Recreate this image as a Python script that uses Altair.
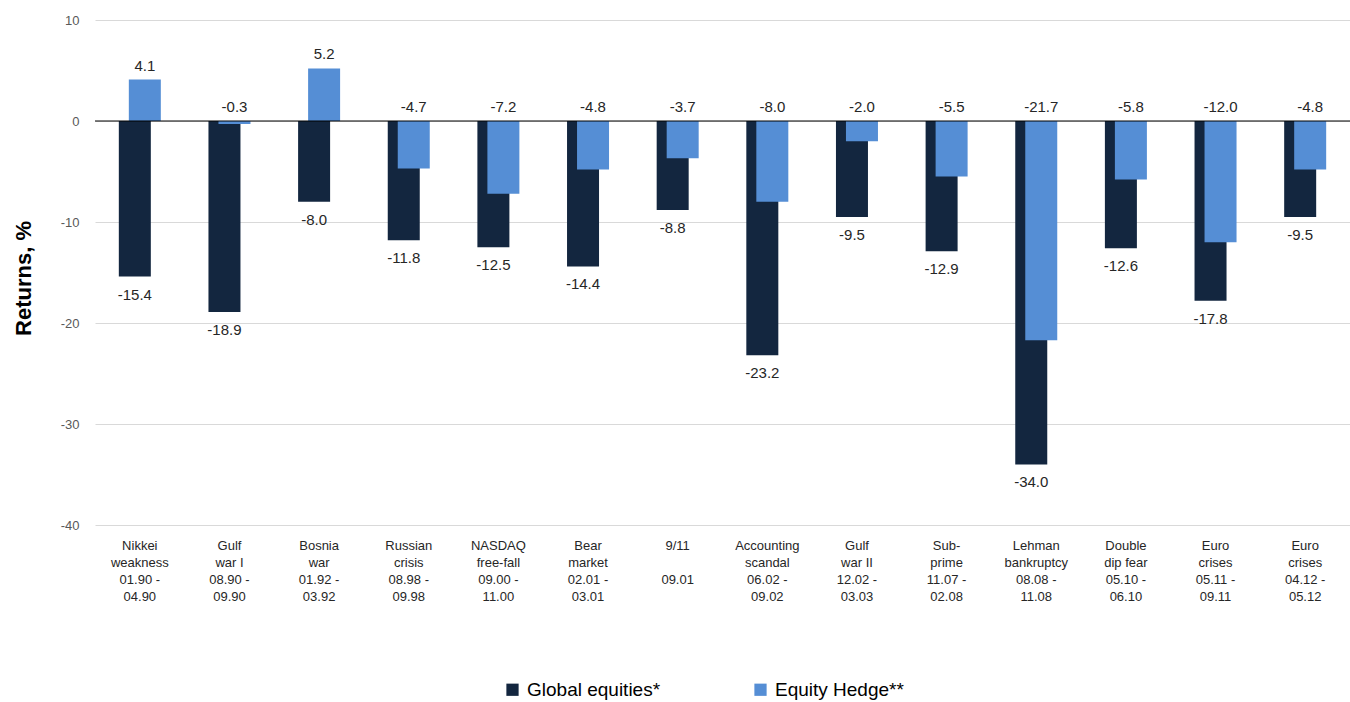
import altair as alt
import pandas as pd

categories = [
    "Nikkei|weakness|01.90 -|04.90",
    "Gulf|war I|08.90 -|09.90",
    "Bosnia|war|01.92 -|03.92",
    "Russian|crisis|08.98 -|09.98",
    "NASDAQ|free-fall|09.00 -|11.00",
    "Bear|market|02.01 -|03.01",
    "9/11|\u2800|09.01|\u2800",
    "Accounting|scandal|06.02 -|09.02",
    "Gulf|war II|12.02 -|03.03",
    "Sub-|prime|11.07 -|02.08",
    "Lehman|bankruptcy|08.08 -|11.08",
    "Double|dip fear|05.10 -|06.10",
    "Euro|crises|05.11 -|09.11",
    "Euro|crises|04.12 -|05.12",
]
global_equities = [-15.4, -18.9, -8.0, -11.8, -12.5, -14.4, -8.8, -23.2, -9.5, -12.9, -34.0, -12.6, -17.8, -9.5]
equity_hedge = [4.1, -0.3, 5.2, -4.7, -7.2, -4.8, -3.7, -8.0, -2.0, -5.5, -21.7, -5.8, -12.0, -4.8]
series_names = ["Global equities*", "Equity Hedge**"]
colors = ["#13263f", "#558ed5"]

df_g = pd.DataFrame({"cat": categories, "value": global_equities, "series": series_names[0]})
df_h = pd.DataFrame({"cat": categories, "value": equity_hedge, "series": series_names[1]})

FONT = "Liberation Sans"
NARROW = "Liberation Sans Narrow, Liberation Sans"

x_axis = alt.Axis(
    labelExpr="split(datum.label, '|')", labelAngle=0, labelFont=NARROW,
    labelFontSize=13, labelLineHeight=17, labelColor="#262626",
    ticks=False, domain=False, grid=False, labelPadding=14, labelBaseline="top",
)
x_scale = alt.Scale(paddingInner=0, paddingOuter=0)
y_axis = alt.Axis(
    values=[10, 0, -10, -20, -30, -40], domain=False, ticks=False,
    labelExpr="replace(format(datum.value, 'd'), '\u2212', '-')",
    labelFont=FONT, labelFontSize=13, labelColor="#595959", labelPadding=16,
    gridColor="#d9d9d9", gridWidth=1,
    titleFont=FONT, titleFontSize=22, titleFontWeight="bold", titleColor="#000000",
    titlePadding=25, titleY=258,
)
y_scale = alt.Scale(domain=[-40, 10], nice=False)


def xe():
    return alt.X("cat:N", sort=categories, title=None, scale=x_scale, axis=x_axis)


def ye(field):
    return alt.Y(field, scale=y_scale, title="Returns, %", axis=y_axis)


color_enc = alt.Color(
    "series:N", sort=series_names,
    scale=alt.Scale(domain=series_names, range=colors),
    legend=alt.Legend(
        title=None, orient="none", direction="horizontal", legendX=408, legendY=660,
        symbolType="square", symbolSize=150, symbolStrokeWidth=0, symbolOpacity=1,
        labelFont=FONT, labelFontSize=19, labelColor="#000000", labelOffset=5,
        columnPadding=90, labelLimit=400,
    ),
)

bars_g = alt.Chart(df_g).mark_bar(size=32, xOffset=-5).encode(x=xe(), y=ye("value:Q"), color=color_enc)
bars_h = alt.Chart(df_h).mark_bar(size=32, xOffset=5).encode(x=xe(), y=ye("value:Q"), color=color_enc)

zero = alt.Chart(pd.DataFrame({"value": [0]})).mark_rule(color="#000000", strokeWidth=1).encode(
    y=ye("value:Q")
)

label_expr = "replace(format(datum.value, '.1f'), '\u2212', '-')"

text_g = alt.Chart(df_g).transform_calculate(lbl=label_expr).mark_text(
    xOffset=-5, dy=23, baseline="alphabetic", font=FONT, fontSize=15, color="#262626"
).encode(x=xe(), y=ye("value:Q"), text="lbl:N")

text_h = alt.Chart(df_h).transform_calculate(top="max(datum.value, 0)", lbl=label_expr).mark_text(
    xOffset=5, dy=-9, baseline="alphabetic", font=FONT, fontSize=15, color="#262626"
).encode(x=xe(), y=ye("top:Q"), text="lbl:N")

chart = alt.layer(bars_g, bars_h, zero, text_g, text_h).properties(
    width=1255, height=505,
    autosize=alt.AutoSizeParams(type="none"),
    padding={"left": 95, "top": 20, "right": 0, "bottom": 177},
    background="#ffffff",
).configure_view(stroke=None)

chart.save("out.html", embed_options={"renderer": "svg", "actions": False})
